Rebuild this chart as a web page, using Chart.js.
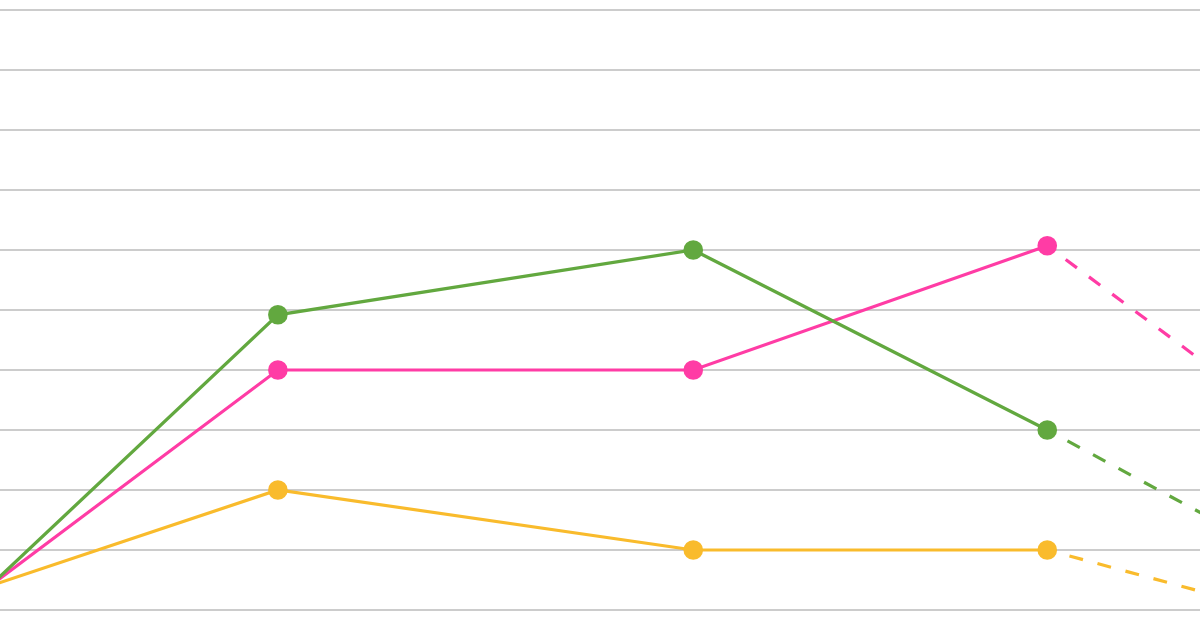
<!DOCTYPE html>
<html>
<head>
<meta charset="utf-8">
<script src="https://cdn.jsdelivr.net/npm/chart.js@4"></script>
<style>
  html, body { margin: 0; padding: 0; background: #ffffff; }
  #wrap { width: 1200px; height: 630px; }
</style>
</head>
<body>
<div id="wrap"><canvas id="c" width="1200" height="630"></canvas></div>
<script>
// Data
const periods = [0, 4.88, 11.92, 17.92, 21.2];
const greenValues = [4.0, 49.2, 60.0, 30.0, 12.6];
const pinkValues = [4.0, 40.0, 40.0, 60.7, 36.7];
const yellowValues = [4.0, 20.0, 10.0, 10.0, 1.3];
const gridTicks = [0, 10, 20, 30, 40, 50, 60, 70, 80, 90, 100];

const toPoints = vals => vals.map((v, i) => ({ x: periods[i], y: v }));
const lastIdx = periods.length - 1;
const dashSeg = {
  borderDash: ctx => ctx.p1DataIndex === lastIdx ? [14, 15] : undefined,
  borderDashOffset: ctx => ctx.p1DataIndex === lastIdx ? 6 : 0
};

function ds(values, color) {
  return {
    data: toPoints(values),
    borderColor: color,
    backgroundColor: color,
    pointBackgroundColor: color,
    pointBorderColor: color,
    borderWidth: 3.2,
    pointRadius: 9.8,
    pointBorderWidth: 0,
    pointHoverRadius: 9.8,
    tension: 0,
    segment: dashSeg
  };
}

new Chart(document.getElementById('c'), {
  type: 'line',
  data: {
    datasets: [
      ds(yellowValues, '#f9bb2c'),
      ds(greenValues, '#62a83f'),
      ds(pinkValues, '#ff3ca5')
    ]
  },
  options: {
    responsive: false,
    animation: false,
    layout: { padding: 0, autoPadding: false },
    plugins: { legend: { display: false }, tooltip: { enabled: false } },
    scales: {
      x: {
        type: 'linear',
        display: false,
        min: 0.17,
        max: 0.17 + 1200 / 59
      },
      y: {
        type: 'linear',
        min: -20 / 6,
        max: 100 + 10 / 6,
        afterBuildTicks: scale => { scale.ticks = gridTicks.map(v => ({ value: v })); },
        ticks: { display: false },
        border: { display: false },
        grid: { color: '#cccccc', lineWidth: 2, drawTicks: false }
      }
    }
  }
});
</script>
</body>
</html>
